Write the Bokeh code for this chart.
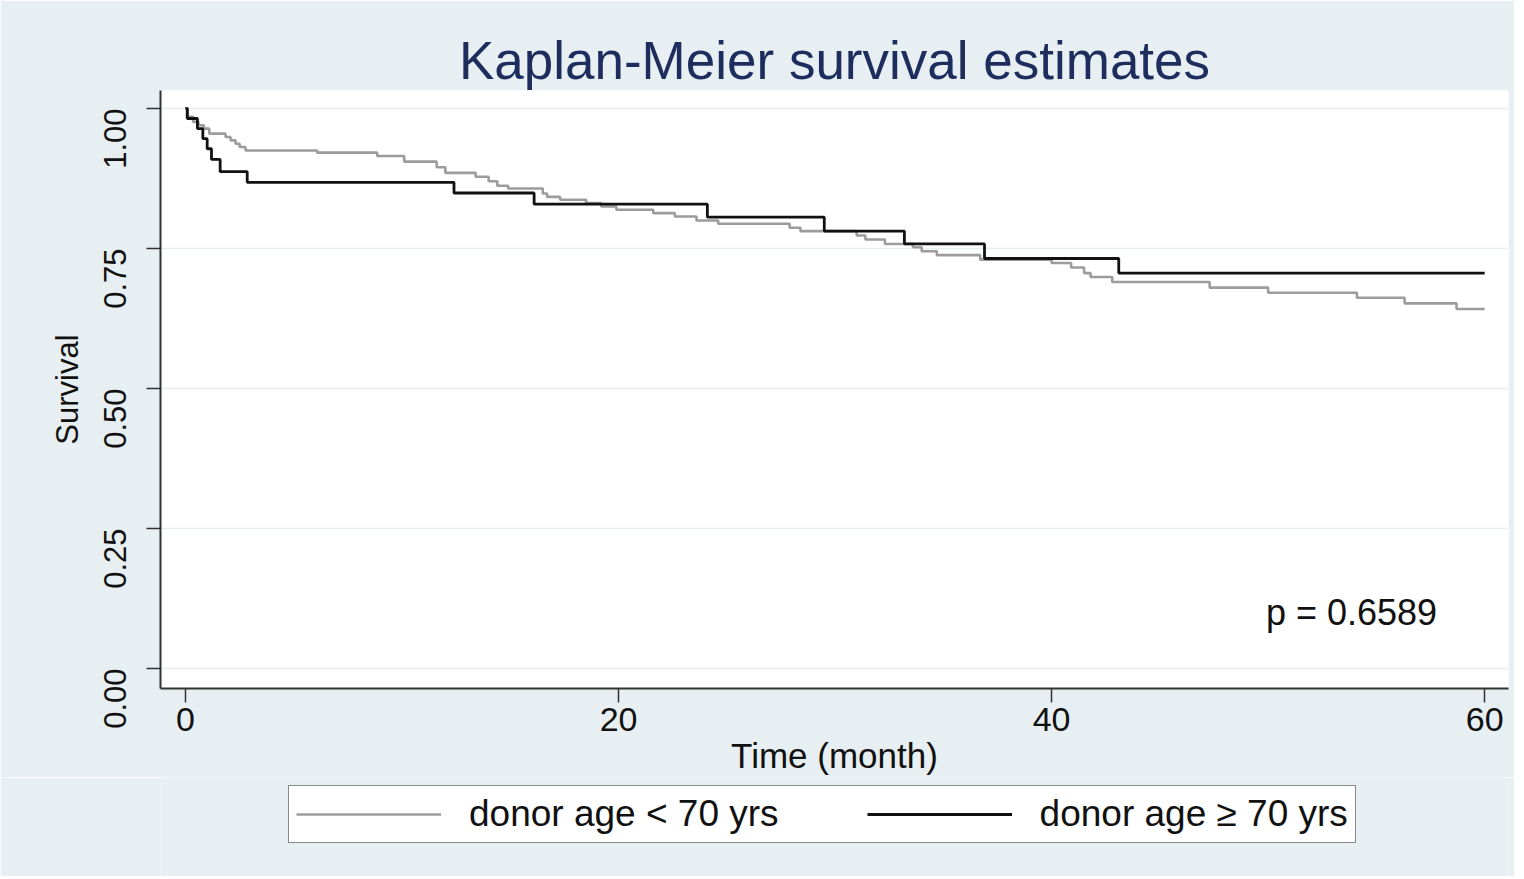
from bokeh.plotting import figure
from bokeh.models import Range1d, FixedTicker, Legend, LegendItem, Label
from bokeh.layouts import column
from bokeh.embed import file_html
from bokeh.resources import INLINE
import math

# Kaplan-Meier step data (time in months, survival probability)
young_t = [0, 0.1, 0.35, 0.6, 0.85, 1.1, 1.85, 2.08, 2.31, 2.5, 2.77, 6.08, 8.85, 10.1,
           11.6, 12.0, 13.4, 14.0, 14.4, 14.9, 16.5, 16.7, 17.3, 18.5, 19.2, 19.9, 21.6,
           22.6, 23.6, 24.6, 27.9, 28.4, 31.0, 31.4, 32.3, 33.6, 34.0, 34.7, 36.7, 40.0,
           40.9, 41.5, 41.8, 42.8, 47.3, 50.0, 54.1, 56.3, 58.7, 60.0]
young_s = [1.0, 0.985, 0.976, 0.970, 0.964, 0.955, 0.949, 0.943, 0.937, 0.931, 0.925, 0.921,
           0.915, 0.905, 0.895, 0.885, 0.878, 0.870, 0.862, 0.857, 0.848, 0.842, 0.837,
           0.831, 0.825, 0.819, 0.813, 0.807, 0.800, 0.794, 0.787, 0.781, 0.773, 0.766,
           0.758, 0.752, 0.745, 0.738, 0.730, 0.724, 0.716, 0.706, 0.699, 0.690, 0.680,
           0.671, 0.662, 0.652, 0.642, 0.642]

old_t = [0, 0.08, 0.55, 0.8, 1.0, 1.2, 1.6, 2.85, 12.4, 16.1, 24.1, 29.5, 33.2, 36.9, 43.1, 60.0]
old_s = [1.0, 0.982, 0.964, 0.946, 0.928, 0.909, 0.887, 0.868, 0.849, 0.829, 0.806, 0.781,
         0.758, 0.732, 0.706, 0.706]

x_ticks = [0, 20, 40, 60]
y_ticks = [0.0, 0.25, 0.50, 0.75, 1.0]
y_tick_labels = ["0.00", "0.25", "0.50", "0.75", "1.00"]
series_labels = ["donor age < 70 yrs", "donor age \u2265 70 yrs"]
p_text = "p = 0.6589"

FONT = "Liberation Sans"
BG = "#e8eff2"
GREY = "#9c9c9c"
BLACK = "#111111"

p = figure(frame_width=1348, frame_height=598, output_backend="svg", toolbar_location=None,
           x_range=Range1d(-1.155, 61.1), y_range=Range1d(-0.0357, 1.032),
           min_border_left=160, min_border_right=6, min_border_top=90, min_border_bottom=0)

p.background_fill_color = "white"
p.border_fill_color = BG
p.outline_line_color = None

p.title.text = "Kaplan-Meier survival estimates"
p.title.align = "center"
p.title.text_font = FONT
p.title.text_font_size = "53px"
p.title.text_font_style = "normal"
p.title.text_color = "#1c2d5e"
p.title.standoff = 2

p.step(young_t, young_s, mode="after", line_color=GREY, line_width=2.6)
p.step(old_t, old_s, mode="after", line_color=BLACK, line_width=2.8)

# axes
p.xaxis.ticker = FixedTicker(ticks=x_ticks)
p.yaxis.ticker = FixedTicker(ticks=y_ticks)
p.yaxis.major_label_overrides = {t: l for t, l in zip(y_ticks, y_tick_labels)}
p.yaxis.major_label_orientation = math.pi / 2
p.xaxis.axis_label = "Time (month)"
p.yaxis.axis_label = "Survival"
for ax in (p.xaxis, p.yaxis):
    ax.axis_line_color = "#333333"
    ax.axis_line_width = 2
    ax.major_tick_line_color = "#333333"
    ax.major_tick_line_width = 1.5
    ax.major_tick_out = 14
    ax.major_tick_in = 0
    ax.minor_tick_line_color = None
    ax.major_label_text_font = FONT
    ax.major_label_text_color = BLACK
    ax.axis_label_text_font = FONT
    ax.axis_label_text_font_style = "normal"
    ax.axis_label_text_color = BLACK
p.xaxis.major_label_text_font_size = "34px"
p.yaxis.major_label_text_font_size = "31px"
p.xaxis.axis_label_text_font_size = "35px"
p.yaxis.axis_label_text_font_size = "31px"
p.xaxis.major_label_standoff = 5
p.xaxis.axis_label_standoff = 2
p.yaxis.major_label_standoff = 31
p.yaxis.axis_label_standoff = 6

p.xgrid.grid_line_color = None
p.ygrid.grid_line_color = "#e6eef0"
p.ygrid.grid_line_width = 1.5

p.add_layout(Label(x=49.9, y=0.10, text=p_text, text_font=FONT, text_font_size="36px",
                   text_color=BLACK, text_baseline="alphabetic"))

# legend strip below the chart (its frame is aligned with the chart frame by the column)
lf = figure(width=1514, height=99, output_backend="svg", toolbar_location=None,
            x_range=Range1d(0, 1), y_range=Range1d(0, 1),
            x_axis_type=None, y_axis_type=None, min_border=0)
lf.background_fill_color = BG
lf.border_fill_color = BG
lf.outline_line_color = None
# single-point lines: draw nothing, only provide the legend swatches
lr_young = lf.line(x=young_t[:1], y=young_s[:1], line_color=GREY, line_width=2.6)
lr_old = lf.line(x=old_t[:1], y=old_s[:1], line_color=BLACK, line_width=2.8)

legend = Legend(items=[LegendItem(label=series_labels[0], renderers=[lr_young]),
                       LegendItem(label=series_labels[1], renderers=[lr_old])],
                orientation="horizontal", location=(128, 33))
legend.label_text_font = FONT
legend.label_text_font_size = "37px"
legend.label_text_color = BLACK
legend.glyph_width = 145
legend.glyph_height = 34
legend.label_standoff = 28
legend.spacing = 88
legend.padding = 7
legend.margin = 0
legend.border_line_color = BLACK
legend.border_line_width = 1.5
legend.background_fill_color = "white"
legend.background_fill_alpha = 1.0
lf.add_layout(legend)

layout = column(p, lf, spacing=0)
open("out.html", "w").write(file_html(layout, INLINE))
